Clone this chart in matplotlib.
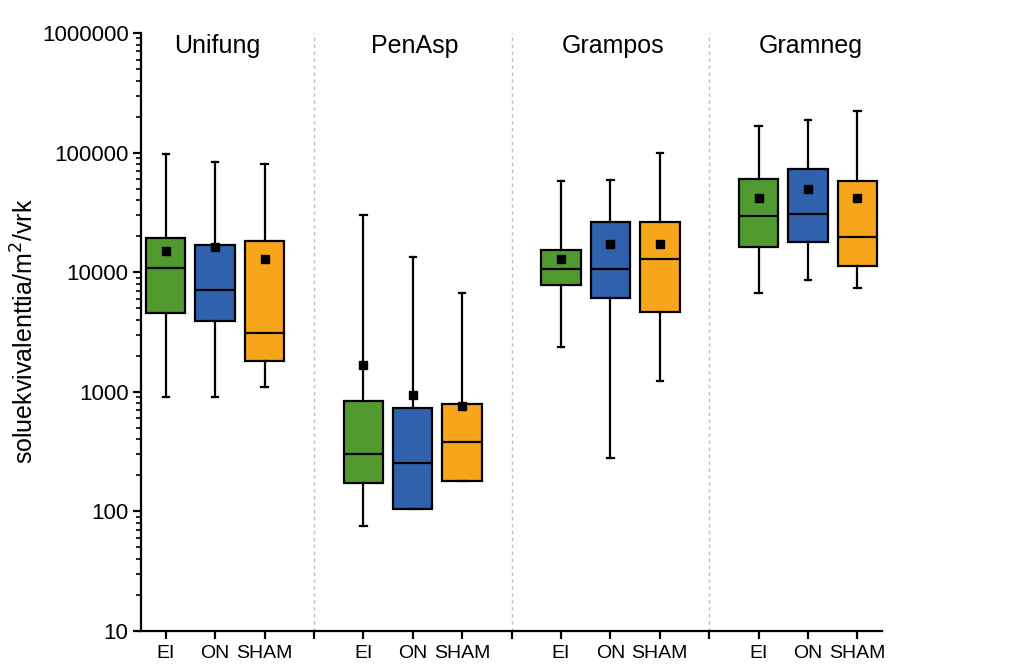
import numpy as np
import matplotlib
matplotlib.use("Agg")
import matplotlib.pyplot as plt
from matplotlib.ticker import LogLocator, NullFormatter, FixedLocator

plt.rcParams['font.family'] = ['Liberation Sans', 'DejaVu Sans']

groups = ["Unifung", "PenAsp", "Grampos", "Gramneg"]
treatments = ["EI", "ON", "SHAM"]
colors = ["#519A30", "#2F61AD", "#F7A61C"]

# per group, per treatment (EI, ON, SHAM)
whislo = [[900, 900, 1090], [76, 105, 178], [2360, 277, 1220], [6650, 8630, 7330]]
q1 = [[4600, 3890, 1800], [173, 105, 178], [7840, 6060, 4680], [16200, 17900, 11200]]
med = [[10900, 7160, 3090], [301, 255, 379], [10600, 10700, 12800], [29500, 30500, 19500]]
q3 = [[19300, 17000, 18100], [843, 730, 785], [15200, 26300, 26500], [60100, 72700, 58200]]
whishi = [[96600, 83800, 80600], [29800, 13500, 6760], [57300, 58600, 100000], [167000, 189000, 221000]]
means = [[15000, 16300, 13000], [1690, 931, 759], [12800, 17100, 17300], [41300, 49800, 41300]]

fig = plt.figure(figsize=(10.19, 6.66), dpi=100)
ax = fig.add_axes([0.1384, 0.0526, 0.7272, 0.8979])

positions = []
for g in range(len(groups)):
    for t in range(len(treatments)):
        pos = g * 4 + t
        positions.append(pos)
        stats = [{
            "whislo": whislo[g][t], "q1": q1[g][t], "med": med[g][t],
            "q3": q3[g][t], "whishi": whishi[g][t], "mean": means[g][t],
        }]
        ax.bxp(stats, positions=[pos], widths=0.8, patch_artist=True,
               showmeans=True, showfliers=False,
               boxprops=dict(facecolor=colors[t], edgecolor="black", linewidth=1.6),
               medianprops=dict(color="black", linewidth=1.6),
               whiskerprops=dict(color="black", linewidth=1.6),
               capprops=dict(color="black", linewidth=1.6),
               capwidths=0.13,
               meanprops=dict(marker="s", markerfacecolor="black",
                              markeredgecolor="black", markersize=5.5))

# group separators
seps = [3, 7, 11]
for s in seps:
    ax.axvline(s, color="#bfbfbf", linestyle=(0, (2.5, 2.5)), linewidth=1.0, zorder=0)

for g, name in enumerate(groups):
    ax.text(g * 4 + 1.05, 0.978, name, transform=ax.get_xaxis_transform(),
            ha="center", va="center", fontsize=18)

ax.set_yscale("log")
ax.set_ylim(10, 1e6)
ax.set_xlim(-0.5, 14.5)

ax.set_yticks([10, 100, 1000, 10000, 100000, 1000000])
ax.set_yticklabels(["10", "100", "1000", "10000", "100000", "1000000"])
ax.yaxis.set_minor_locator(LogLocator(base=10, subs=np.arange(2, 10)))
ax.yaxis.set_minor_formatter(NullFormatter())

ax.set_xticks(positions)
ax.set_xticklabels(treatments * len(groups))
ax.xaxis.set_minor_locator(FixedLocator(seps))

for side in ["top", "right"]:
    ax.spines[side].set_visible(False)
for side in ["left", "bottom"]:
    ax.spines[side].set_linewidth(1.6)

ax.tick_params(axis="y", which="major", direction="out", length=6, width=1.6, labelsize=16, pad=3)
ax.tick_params(axis="y", which="minor", direction="out", length=3.5, width=1.2)
ax.tick_params(axis="x", which="major", direction="out", length=6, width=1.6, labelsize=14, pad=4)
ax.tick_params(axis="x", which="minor", direction="out", length=6, width=1.6)

fig.text(25 / 1019, 1 - 331 / 666, "soluekvivalenttia/m$^2$/vrk", rotation=90,
         ha="center", va="center", fontsize=18)

fig.savefig("out.png", dpi=100)
